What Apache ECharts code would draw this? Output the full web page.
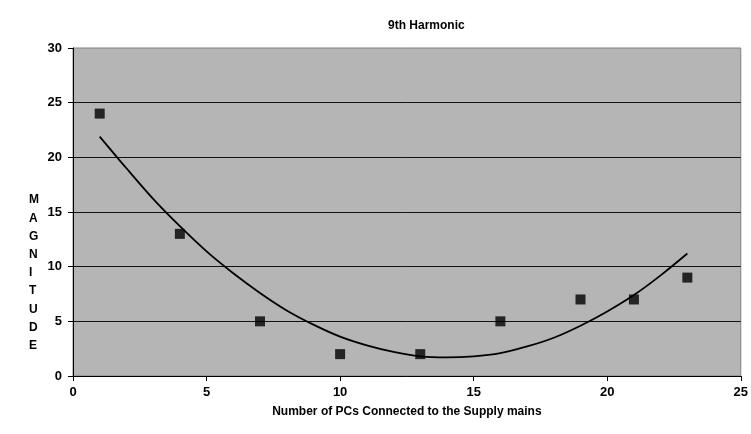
<!DOCTYPE html>
<html>
<head>
<meta charset="utf-8">
<script src="https://cdn.jsdelivr.net/npm/echarts@6/dist/echarts.min.js"></script>
<style>
html,body{margin:0;padding:0;background:#fff;}
#chart{width:751px;height:434px;}
</style>
</head>
<body>
<div id="chart"></div>
<script>
// Measured points (number of PCs, 9th harmonic magnitude)
var pcCounts = [1, 4, 7, 10, 13, 16, 19, 21, 23];
var magnitudes = [24, 13, 5, 2, 2, 5, 7, 7, 9];
// Trend curve
var trendX = [1, 2, 3, 4, 5, 6, 7, 8, 9, 10, 11, 12, 13, 14, 15, 16, 17, 18, 19, 20, 21, 22, 23];
var trendY = [21.9, 19.0, 16.2, 13.7, 11.4, 9.4, 7.6, 6.0, 4.7, 3.6, 2.8, 2.2, 1.8, 1.7, 1.8, 2.1, 2.7, 3.5, 4.6, 5.9, 7.4, 9.2, 11.2];
var xTicks = [0, 5, 10, 15, 20, 25];
var yTicks = [0, 5, 10, 15, 20, 25, 30];
var yLetters = ['M', 'A', 'G', 'N', 'I', 'T', 'U', 'D', 'E'];

var scatterData = pcCounts.map(function (x, i) { return [x, magnitudes[i]]; });
var trendData = trendX.map(function (x, i) { return [x, trendY[i]]; });

var font = 'Liberation Sans, Arial, sans-serif';
var chart = echarts.init(document.getElementById('chart'), null, {renderer: 'canvas'});
chart.setOption({
  animation: false,
  backgroundColor: '#ffffff',
  title: {
    text: '9th Harmonic',
    left: 383,
    top: 15,
    textStyle: {fontFamily: font, fontSize: 12, fontWeight: 'bold', color: '#000'}
  },
  graphic: [{
    type: 'text',
    left: 29,
    top: 191,
    style: {
      text: yLetters.join('\n'),
      fontFamily: font,
      fontSize: 12,
      fontWeight: 'bold',
      lineHeight: 18.2,
      fill: '#000',
      align: 'center'
    }
  }],
  grid: {
    left: 73, top: 48, right: 6, bottom: 58,
    show: true,
    backgroundColor: '#b5b5b5',
    borderColor: '#808080',
    borderWidth: 1
  },
  xAxis: {
    type: 'value',
    min: xTicks[0],
    max: xTicks[xTicks.length - 1],
    interval: 5,
    name: 'Number of PCs Connected to the Supply mains',
    nameLocation: 'middle',
    nameGap: 30,
    nameTextStyle: {fontFamily: font, fontSize: 12, fontWeight: 'bold', color: '#000'},
    axisLine: {show: true, onZero: false, lineStyle: {color: '#000', width: 1}},
    axisTick: {show: true, inside: false, length: 5, lineStyle: {color: '#000'}},
    axisLabel: {fontFamily: font, fontSize: 13, fontWeight: 'bold', color: '#000', margin: 10},
    splitLine: {show: false}
  },
  yAxis: {
    type: 'value',
    min: yTicks[0],
    max: yTicks[yTicks.length - 1],
    interval: 5,
    axisLine: {show: true, onZero: false, lineStyle: {color: '#000', width: 1}},
    axisTick: {show: true, inside: false, length: 5, lineStyle: {color: '#000'}},
    axisLabel: {fontFamily: font, fontSize: 13, fontWeight: 'bold', color: '#000', margin: 11},
    splitLine: {show: true, showMinLine: false, showMaxLine: false, lineStyle: {color: '#111', width: 1}}
  },
  series: [
    {
      type: 'line',
      data: trendData,
      smooth: 0.3,
      showSymbol: false,
      symbol: 'none',
      lineStyle: {color: '#000', width: 1.8},
      z: 3
    },
    {
      type: 'scatter',
      data: scatterData,
      symbol: 'rect',
      symbolSize: 10,
      itemStyle: {color: '#000'},
      z: 4
    }
  ]
});
</script>
</body>
</html>
